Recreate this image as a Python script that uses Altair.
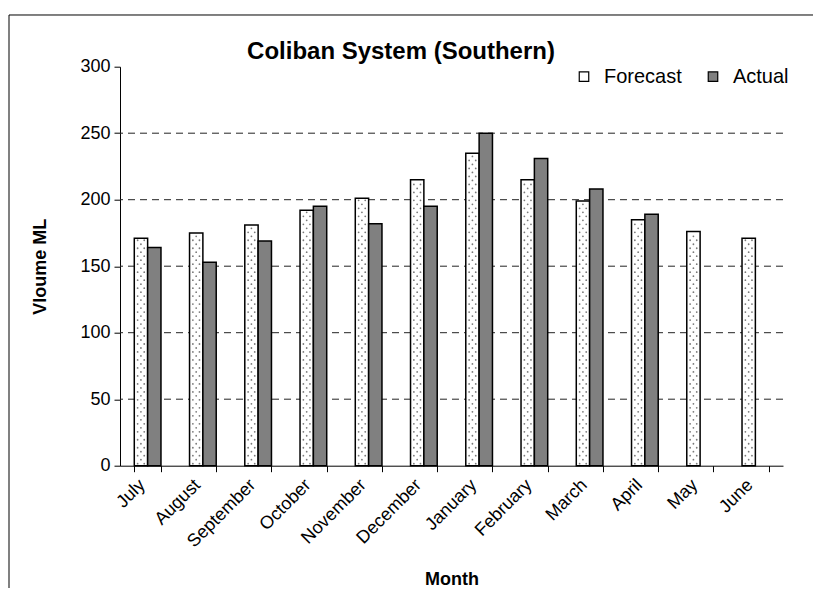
import altair as alt
import pandas as pd

months = ["July", "August", "September", "October", "November", "December",
          "January", "February", "March", "April", "May", "June"]
forecast = [171, 175, 181, 192, 201, 215, 235, 215, 199, 185, 176, 171]
actual = [164, 153, 169, 195, 182, 195, 250, 231, 208, 189, None, None]
series = ["Forecast", "Actual"]
y_ticks = [0, 50, 100, 150, 200, 250, 300]
title_text = "Coliban System (Southern)"

rows = []
for m, f, a in zip(months, forecast, actual):
    rows.append({"Month": m, "Series": "Forecast", "Value": f})
    if a is not None:
        rows.append({"Month": m, "Series": "Actual", "Value": a})
df = pd.DataFrame(rows)
fc = pd.DataFrame({"Month": months, "Forecast": forecast})
grid_df = pd.DataFrame({"v": [v for v in y_ticks if 0 < v < 300]})

FONT = "Liberation Sans"

x_scale = alt.Scale(domain=months, paddingInner=0.517, paddingOuter=0.2585)
y_scale = alt.Scale(domain=[0, 300])

x_axis = alt.Axis(
    title="Month", labelAngle=-45, labelAlign="right", labelBaseline="top",
    labelFontSize=18, labelFont=FONT, labelColor="black", labelPadding=4, labelOffset=-12,
    tickBand="extent", tickSize=6, tickColor="black", domainColor="black",
    titleFontSize=18, titleFont=FONT, titleFontWeight="bold", titleColor="black",
    titleX=331.5, titleY=114, titleBaseline="middle", titleAlign="center",
    grid=False,
)
y_axis = alt.Axis(
    title="Vloume ML", values=y_ticks,
    labelFontSize=18, labelFont=FONT, labelColor="black", labelPadding=4,
    tickSize=6, tickColor="black", domainColor="black",
    titleFontSize=18, titleFont=FONT, titleFontWeight="bold", titleColor="black",
    titleX=-80, titleY=199.5, titleAngle=-90, titleBaseline="middle", titleAlign="center",
    grid=False,
)

grid = alt.Chart(grid_df).mark_rule(color="#222222", strokeDash=[7, 5], strokeWidth=1).encode(
    y=alt.Y("v:Q", scale=y_scale, axis=y_axis)
)

bars = alt.Chart(df).mark_bar(stroke="black", strokeWidth=1.5).encode(
    x=alt.X("Month:N", scale=x_scale, axis=x_axis, sort=months),
    xOffset=alt.XOffset("Series:N", scale=alt.Scale(domain=series, paddingInner=0, paddingOuter=0)),
    y=alt.Y("Value:Q", scale=y_scale, axis=y_axis),
    fill=alt.Fill("Series:N", scale=alt.Scale(domain=series, range=["white", "#808080"]),
                  legend=alt.Legend(
                      title=None, orient="none", direction="horizontal",
                      legendX=454, legendY=0, symbolType="square", symbolSize=90,
                      symbolStrokeColor="black", symbolStrokeWidth=1.2,
                      labelFontSize=20, labelFont=FONT, labelColor="black",
                      labelOffset=10, columnPadding=21, padding=0,
                  )),
)

def dots(parity, offset):
    return alt.Chart(fc).transform_calculate(
        d="sequence(1.5, datum.Forecast - 1, 3)"
    ).transform_flatten(["d"]).transform_calculate(
        r="round((datum.d - 1.5) / 3) % 2"
    ).transform_filter(f"datum.r == {parity}").mark_point(
        shape="circle", filled=True, size=3.2, color="#7a7a7a", opacity=1, xOffset=offset
    ).encode(
        x=alt.X("Month:N", scale=x_scale, sort=months, axis=x_axis),
        y=alt.Y("d:Q", scale=y_scale, axis=y_axis),
    )

one = pd.DataFrame({"k": [0]})
frame_top = alt.Chart(one).mark_rule(color="black", strokeWidth=1).encode(
    x=alt.value(-111), x2=alt.value(700), y=alt.value(-51.7))
frame_left = alt.Chart(one).mark_rule(color="black", strokeWidth=1).encode(
    x=alt.value(-111), y=alt.value(-51.7), y2=alt.value(530))

title = alt.Chart(pd.DataFrame({"t": [title_text]})).mark_text(
    font=FONT, fontSize=24, fontWeight="bold", color="black",
    align="center", baseline="alphabetic"
).encode(text="t:N", x=alt.value(281), y=alt.value(-8))

chart = alt.layer(
    frame_top, frame_left, grid, bars, dots(0, -10.0), dots(0, -3.4), dots(1, -6.7), title
).properties(
    width=663, height=399,
    background="white",
    autosize=alt.AutoSizeParams(type="none"),
    padding={"left": 112, "top": 58.7, "right": 30, "bottom": 122},
).configure_view(strokeWidth=0, stroke="transparent").configure_axis(grid=False)

chart.save("out.html", embed_options={"renderer": "svg", "actions": False})
